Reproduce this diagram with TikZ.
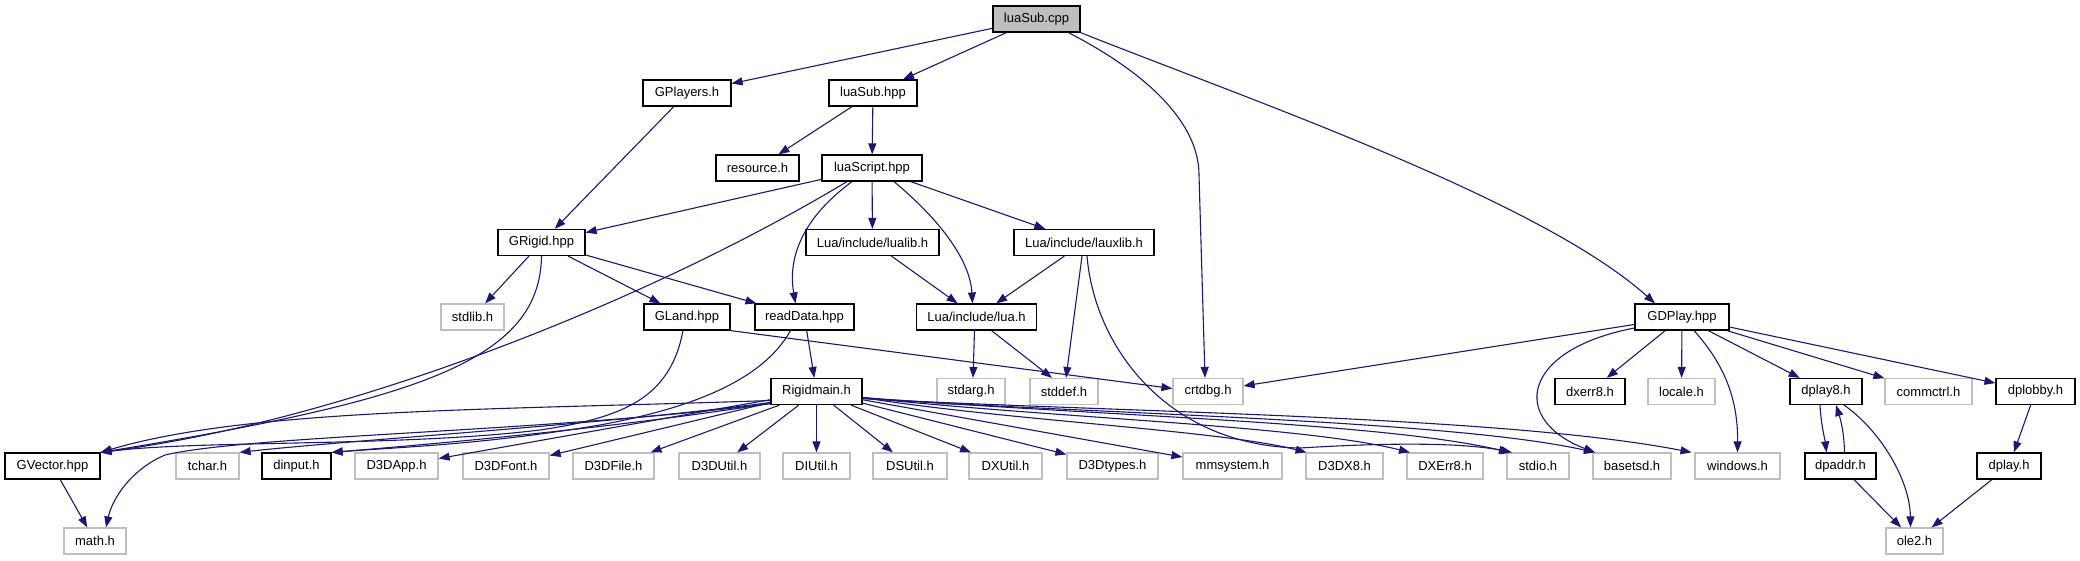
\documentclass[tikz,border=0pt]{standalone}
\usepackage{fontspec}
\setmainfont{Liberation Sans}
\usetikzlibrary{arrows.meta}
\definecolor{navyedge}{RGB}{25,25,112}
\definecolor{lightborder}{RGB}{191,191,191}
\definecolor{rootgray}{RGB}{191,191,191}
\tikzset{
  base/.style={rectangle, minimum height=26pt, inner sep=0pt, line width=1.2pt,
    font=\fontsize{13}{15}\selectfont},
  nb/.style={base, draw=black, fill=white},
  ng/.style={base, draw=lightborder, fill=white},
  nr/.style={base, draw=black, fill=rootgray},
  edge/.style={draw=navyedge, line width=1.1pt, -{Triangle[length=11pt,width=8pt]}},
}
\begin{document}
\begin{tikzpicture}[x=1pt,y=-1pt]
\useasboundingbox (0,0) rectangle (2080,560);
% row 0
\node[nr, minimum width=87pt] (luasubcpp) at (1036.5,19) {luaSub.cpp};
% row 1
\node[nb, minimum width=88pt] (gplayers) at (687,93) {GPlayers.h};
\node[nb, minimum width=88pt] (luasubhpp) at (873,93) {luaSub.hpp};
% row 2
\node[nb, minimum width=83pt] (resource) at (757.5,168) {resource.h};
\node[nb, minimum width=100pt] (luascript) at (872,168) {luaScript.hpp};
% row 3
\node[nb, minimum width=87pt] (grigid) at (541.5,242.5) {GRigid.hpp};
\node[nb, minimum width=133pt] (lualib) at (872.5,242.5) {Lua/include/lualib.h};
\node[nb, minimum width=140pt] (lauxlib) at (1084,242.5) {Lua/include/lauxlib.h};
% row 4
\node[ng, minimum width=63pt] (stdlib) at (472.5,317) {stdlib.h};
\node[nb, minimum width=86pt] (gland) at (687,317) {GLand.hpp};
\node[nb, minimum width=99pt] (readdata) at (804.5,317) {readData.hpp};
\node[nb, minimum width=120pt] (luah) at (976.5,317) {Lua/include/lua.h};
\node[nb, minimum width=94pt] (gdplay) at (1682,317) {GDPlay.hpp};
% row 5
\node[nb, minimum width=91pt] (rigidmain) at (816.5,391.5) {Rigidmain.h};
\node[ng, minimum width=68pt] (stdarg) at (971,391.5) {stdarg.h};
\node[ng, minimum width=68pt] (stddef) at (1064,391.5) {stddef.h};
\node[ng, minimum width=70pt] (crtdbg) at (1208,391.5) {crtdbg.h};
\node[nb, minimum width=70pt] (dxerr8) at (1590,391.5) {dxerr8.h};
\node[ng, minimum width=67pt] (locale) at (1681.5,391.5) {locale.h};
\node[nb, minimum width=72pt] (dplay8) at (1826,391.5) {dplay8.h};
\node[ng, minimum width=87pt] (commctrl) at (1928.5,391.5) {commctrl.h};
\node[nb, minimum width=79pt] (dplobby) at (2035.5,391.5) {dplobby.h};
% row 6
\node[nb, minimum width=95pt] (gvector) at (52.5,466) {GVector.hpp};
\node[ng, minimum width=63pt] (tchar) at (207.5,466) {tchar.h};
\node[nb, minimum width=69pt] (dinput) at (296.5,466) {dinput.h};
\node[ng, minimum width=83pt] (d3dapp) at (396.5,466) {D3DApp.h};
\node[ng, minimum width=86pt] (d3dfont) at (506,466) {D3DFont.h};
\node[ng, minimum width=81pt] (d3dfile) at (613.5,466) {D3DFile.h};
\node[ng, minimum width=81pt] (d3dutil) at (719.5,466) {D3DUtil.h};
\node[ng, minimum width=67pt] (diutil) at (816.5,466) {DIUtil.h};
\node[ng, minimum width=74pt] (dsutil) at (910,466) {DSUtil.h};
\node[ng, minimum width=73pt] (dxutil) at (1005.5,466) {DXUtil.h};
\node[ng, minimum width=91pt] (d3dtypes) at (1112.5,466) {D3Dtypes.h};
\node[ng, minimum width=99pt] (mmsystem) at (1232.5,466) {mmsystem.h};
\node[ng, minimum width=77pt] (d3dx8) at (1344.5,466) {D3DX8.h};
\node[ng, minimum width=76pt] (dxerr8b) at (1445,466) {DXErr8.h};
\node[ng, minimum width=62pt] (stdio) at (1538,466) {stdio.h};
\node[ng, minimum width=78pt] (basetsd) at (1632,466) {basetsd.h};
\node[ng, minimum width=85pt] (windows) at (1737.5,466) {windows.h};
\node[nb, minimum width=71pt] (dpaddr) at (1840.5,466) {dpaddr.h};
\node[nb, minimum width=64pt] (dplay) at (2009,466) {dplay.h};
% row 7
\node[ng, minimum width=62pt] (mathh) at (95,541) {math.h};
\node[ng, minimum width=57pt] (ole2) at (1914.5,541) {ole2.h};

% edges from luaSub.cpp
\draw[edge] (luasubcpp) -- (gplayers);
\draw[edge] (luasubcpp) -- (luasubhpp);
\draw[edge] ([xshift=32pt]luasubcpp.south) .. controls (1160,80) and (1199,130) .. (1199,175) -- ([xshift=-3pt]crtdbg.north);
\draw[edge] (luasubcpp.south east) .. controls (1250,100) and (1540,200) .. ([xshift=-27pt]gdplay.north);
% upper part
\draw[edge] (gplayers) -- (grigid);
\draw[edge] (luasubhpp) -- (resource);
\draw[edge] (luasubhpp) -- (luascript);
\draw[edge] (luascript) -- (grigid);
\draw[edge] (luascript) -- (lualib);
\draw[edge] (luascript) -- (lauxlib);
\draw[edge] ([xshift=22pt]luascript.south) .. controls (940,220) and (970,260) .. ([xshift=-4pt]luah.north);
\draw[edge] ([xshift=-20pt]luascript.south) .. controls (800,220) and (788,260) .. ([xshift=-9pt]readdata.north);
\draw[edge] ([xshift=-25pt]luascript.south) .. controls (650,300) and (350,420) .. (gvector.north east);
\draw[edge] (grigid) -- (stdlib);
\draw[edge] (grigid.south) .. controls (540,360) and (420,400) .. (gvector.north east);
\draw[edge] (grigid) -- (gland);
\draw[edge] (grigid) -- (readdata);
\draw[edge] (lualib) -- (luah);
\draw[edge] (lauxlib) -- (luah);
\draw[edge] ([xshift=-2pt]lauxlib.south) -- ([xshift=2pt]stddef.north);
\draw[edge] ([xshift=3pt]lauxlib.south) .. controls (1095,350) and (1170,446) .. (1300,448) .. controls (1380,443) and (1460,442) .. ([xshift=-26pt]stdio.north);
\draw[edge] (gland.south east) -- ([yshift=3pt]crtdbg.west);
\draw[edge] ([xshift=-4pt]gland.south) .. controls (670,400) and (620,418) .. (540,430) .. controls (400,447) and (200,440) .. (gvector.north east);
\draw[edge] (readdata) -- (rigidmain);
\draw[edge] ([xshift=-14pt]readdata.south) .. controls (760,385) and (680,410) .. (600,425) .. controls (480,445) and (400,447) .. (dinput.north east);
\draw[edge] ([xshift=-2pt]luah.south) -- ([xshift=2pt]stdarg.north);
\draw[edge] ([xshift=15pt]luah.south) -- ([xshift=-12pt]stddef.north);
% Rigidmain fan
\draw[edge] ([yshift=-9pt]rigidmain.west) .. controls (500,410) and (250,408) .. (gvector.north east);
\draw[edge] ([yshift=-11pt]rigidmain.west) .. controls (600,425) and (350,440) .. (tchar.north east);
\draw[edge] ([yshift=-12pt]rigidmain.west) .. controls (600,430) and (420,445) .. (dinput.north east);
\draw[edge] (rigidmain) -- (d3dapp);
\draw[edge] (rigidmain) -- (d3dfont);
\draw[edge] (rigidmain) -- (d3dfile);
\draw[edge] (rigidmain) -- (d3dutil);
\draw[edge] (rigidmain) -- (diutil);
\draw[edge] (rigidmain) -- (dsutil);
\draw[edge] (rigidmain) -- (dxutil);
\draw[edge] (rigidmain) -- (d3dtypes);
\draw[edge] (rigidmain) -- (mmsystem);
\draw[edge] ([yshift=-6pt]rigidmain.east) .. controls (1000,420) and (1220,430) .. ([xshift=-38pt]d3dx8.north);
\draw[edge] ([yshift=-6pt]rigidmain.east) .. controls (1050,418) and (1300,425) .. ([xshift=-35pt]dxerr8b.north);
\draw[edge] ([yshift=-6pt]rigidmain.east) .. controls (1100,416) and (1380,422) .. ([xshift=-28pt]stdio.north);
\draw[edge] ([yshift=-7pt]rigidmain.east) .. controls (1100,414) and (1450,420) .. ([xshift=-37pt]basetsd.north);
\draw[edge] ([yshift=-7pt]rigidmain.east) .. controls (1100,412) and (1500,415) .. ([xshift=-46pt]windows.north);
\draw[edge] ([yshift=-12pt]rigidmain.west) .. controls (550,432) and (250,435) .. (165,455) .. controls (130,470) and (112,500) .. ([xshift=11pt]mathh.north);
\draw[edge] (gvector) -- (mathh);
% GDPlay
\draw[edge] (gdplay) -- (crtdbg);
\draw[edge] ([yshift=-11pt]gdplay.west) .. controls (1520,350) and (1510,420) .. ([xshift=-37pt]basetsd.north);
\draw[edge] (gdplay) -- (dxerr8);
\draw[edge] (gdplay) -- (locale);
\draw[edge] ([xshift=12pt]gdplay.south) .. controls (1725,365) and (1738,400) .. (windows.north);
\draw[edge] (gdplay) -- (dplay8);
\draw[edge] (gdplay) -- (commctrl);
\draw[edge] (gdplay) -- (dplobby);
\draw[edge] ([xshift=-6pt]dplay8.south) .. controls (1821,425) and (1825,440) .. ([xshift=-14pt]dpaddr.north);
\draw[edge] ([xshift=4pt]dpaddr.north) .. controls (1844,430) and (1840,418) .. ([xshift=10pt]dplay8.south);
\draw[edge] ([xshift=18pt]dplay8.south) .. controls (1880,430) and (1910,480) .. ([xshift=-4pt]ole2.north);
\draw[edge] (dpaddr) -- (ole2);
\draw[edge] (dplobby) -- (dplay);
\draw[edge] (dplay) -- (ole2);
\end{tikzpicture}
\end{document}
